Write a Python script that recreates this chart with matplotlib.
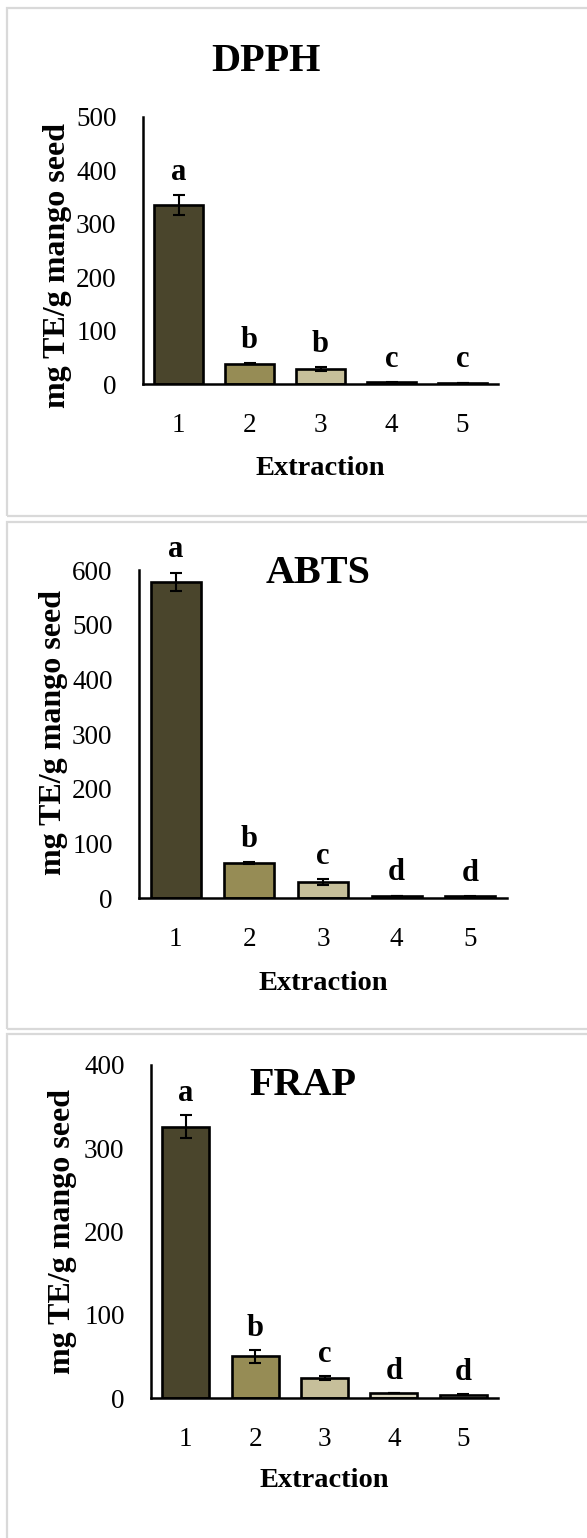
import matplotlib
matplotlib.use("Agg")
import matplotlib.pyplot as plt
from matplotlib.patches import Rectangle

plt.rcParams['font.family'] = ['Liberation Serif', 'DejaVu Serif']

extractions = ["1", "2", "3", "4", "5"]

dpph_values = [335, 38, 28, 3, 2]
dpph_errors = [19, 1, 3, 0.5, 0.5]
dpph_letters = ["a", "b", "b", "c", "c"]

abts_values = [578, 64, 29, 4, 3]
abts_errors = [17, 1, 5, 0.5, 0.5]
abts_letters = ["a", "b", "c", "d", "d"]

frap_values = [326, 50, 24, 6, 4]
frap_errors = [14, 8, 2, 0.5, 0.5]
frap_letters = ["a", "b", "c", "d", "d"]

bar_colors = ["#4A452C", "#968C55", "#C6BF9A", "#DDD9C3", "#EEECE1"]

W, H = 587, 1538
fig = plt.figure(figsize=(W / 100, H / 100), dpi=100)
fig.patch.set_facecolor("white")


def px_rect(l, t, r, b):
    return [l / W, (H - b) / H, (r - l) / W, (b - t) / H]


# panel borders
for (top, bot) in [(8, 516), (522, 1029), (1034, 1545)]:
    fig.patches.append(Rectangle((7 / W, (H - bot) / H), 1.0, (bot - top) / H,
                                 transform=fig.transFigure, fill=False,
                                 edgecolor="#d9d9d9", linewidth=1.6,
                                 clip_on=False))

panels = [
    dict(name="DPPH", vals=dpph_values, errs=dpph_errors, letters=dpph_letters,
         box=(143, 117, 498, 384), ymax=500, step=100,
         title=(266, 71), xlab=(320, 475), ylab=(57, 266), off=11),
    dict(name="ABTS", vals=abts_values, errs=abts_errors, letters=abts_letters,
         box=(139, 570, 507, 898), ymax=600, step=100,
         title=(318, 583), xlab=(323, 990), ylab=(53, 733), off=11),
    dict(name="FRAP", vals=frap_values, errs=frap_errors, letters=frap_letters,
         box=(151, 1065, 498, 1398), ymax=400, step=100,
         title=(303, 1095), xlab=(324, 1487), ylab=(63, 1231), off=10),
]

for p in panels:
    l, t, r, b = p["box"]
    ax = fig.add_axes(px_rect(l, t, r, b))
    x = list(range(1, len(extractions) + 1))
    ax.bar(x, p["vals"], width=0.68, color=bar_colors, edgecolor="black",
           linewidth=1.9, zorder=2)
    ax.errorbar(x, p["vals"], yerr=p["errs"], fmt="none", ecolor="black",
                elinewidth=1.5, capsize=4, capthick=1.5, zorder=3)
    for xi, v, e, s in zip(x, p["vals"], p["errs"], p["letters"]):
        ax.annotate(s, (xi, v + e), xytext=(0, p["off"]),
                    textcoords="offset points", ha="center", va="baseline",
                    fontsize=22, fontweight="bold")
    ax.set_xlim(0.5, len(extractions) + 0.5)
    ax.set_ylim(0, p["ymax"])
    ax.set_xticks(x)
    ax.set_xticklabels(extractions)
    ax.set_yticks(range(0, p["ymax"] + 1, p["step"]))
    ax.tick_params(axis="both", length=0, labelsize=19.5)
    ax.tick_params(axis="x", pad=21)
    ax.tick_params(axis="y", pad=19)
    for s in ["top", "right"]:
        ax.spines[s].set_visible(False)
    for s in ["left", "bottom"]:
        ax.spines[s].set_linewidth(1.8)
        ax.spines[s].set_color("black")
    ax.patch.set_alpha(0)

    tx, ty = p["title"]
    fig.text(tx / W, (H - ty) / H, p["name"], ha="center", va="baseline",
             fontsize=29, fontweight="bold")
    xx, xy = p["xlab"]
    fig.text(xx / W, (H - xy) / H, "Extraction", ha="center", va="baseline",
             fontsize=20.5, fontweight="bold")
    yx, yy = p["ylab"]
    fig.text(yx / W, (H - yy) / H, "mg TE/g mango seed", ha="center",
             va="center", rotation=90, fontsize=23, fontweight="bold")

fig.savefig("out.png", dpi=100, facecolor="white")
